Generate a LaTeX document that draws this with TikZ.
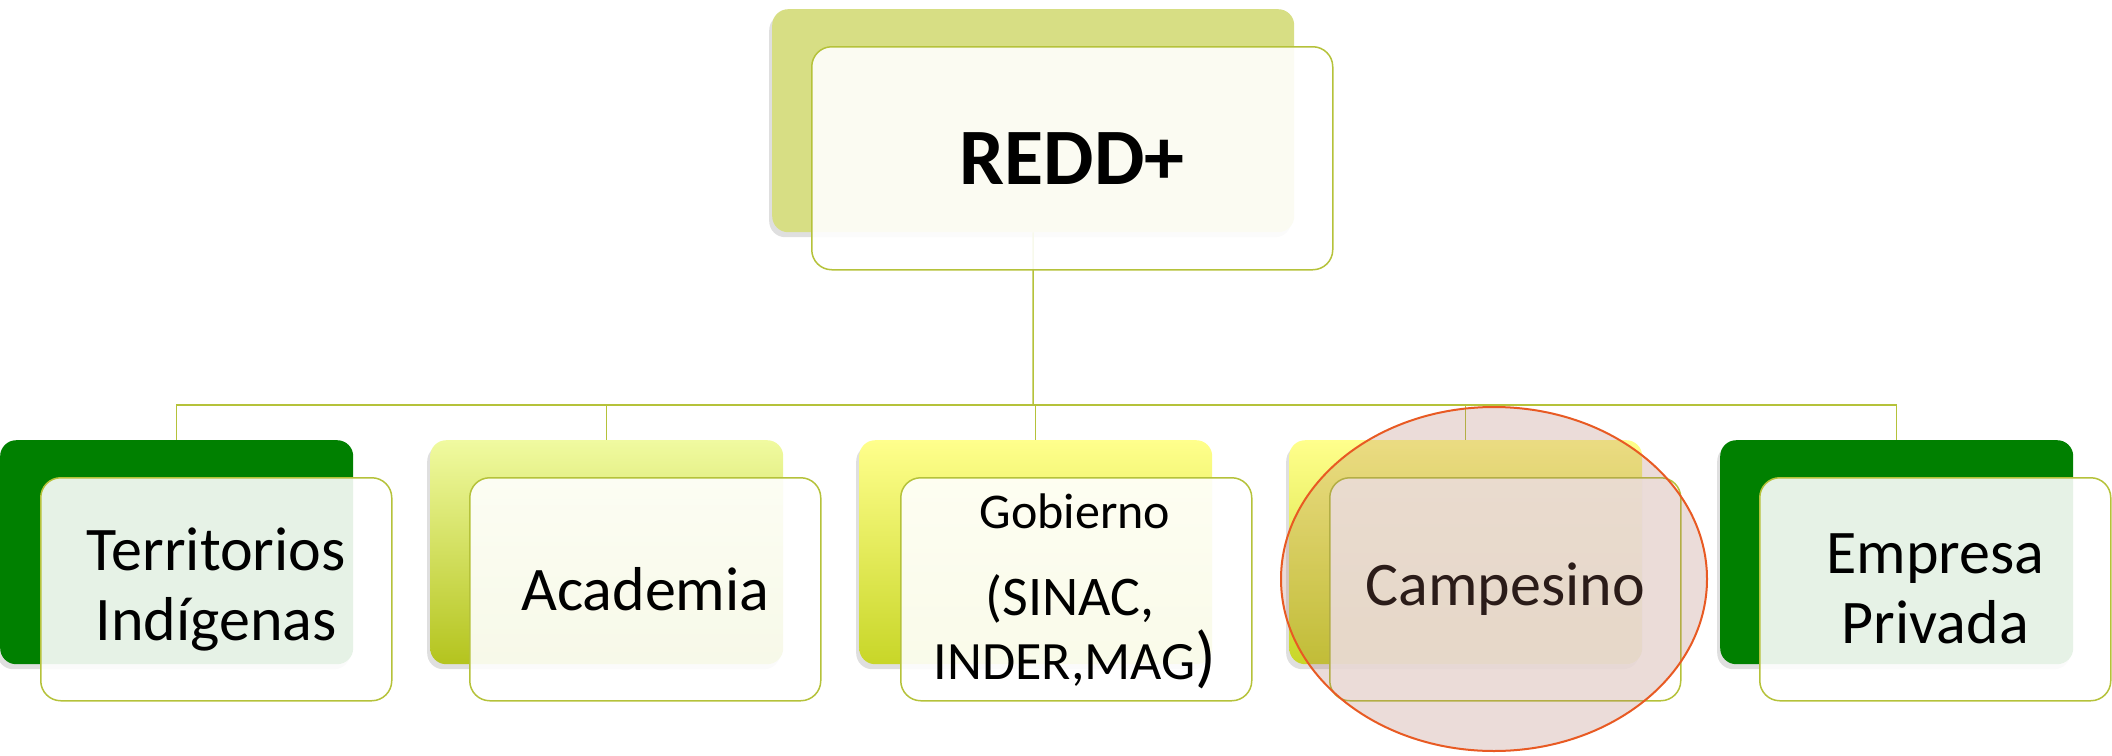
\documentclass[tikz,border=0pt]{standalone}
\usepackage{fontspec}
\setmainfont{Carlito}
\usetikzlibrary{shadows}
\definecolor{lineol}{RGB}{181,194,58}
\definecolor{dgreen}{RGB}{0,128,0}
\definecolor{topback}{RGB}{215,222,132}
\definecolor{acatop}{RGB}{240,250,160}
\definecolor{acabot}{RGB}{180,196,30}
\definecolor{gobtop}{RGB}{255,255,140}
\definecolor{gobbot}{RGB}{200,214,40}
\definecolor{ellfill}{RGB}{175,115,103}
\definecolor{ellline}{RGB}{232,90,35}
\begin{document}
\begin{tikzpicture}[x=1pt,y=-1pt,
  backbox/.style={rounded corners=16pt, minimum width=353pt, minimum height=224pt,
    anchor=north west, inner sep=0pt, draw=none,
    drop shadow={shadow xshift=-3pt,shadow yshift=-5pt,opacity=0.25}},
  frontbox/.style={rounded corners=20pt, minimum width=351pt, minimum height=223pt,
    anchor=north west, draw=lineol, line width=1.5pt, fill=white, fill opacity=0.9,
    text opacity=1, align=center, inner sep=0pt,
    font=\fontsize{62}{70}\selectfont},
  conn/.style={draw=lineol, line width=1.5pt}]
\useasboundingbox (0,0) rectangle (2112,755);

% back boxes
\node[backbox, fill=topback, minimum width=522pt, minimum height=223pt] (tb) at (772,9) {};
\node[backbox, fill=dgreen] (b1) at (0,440) {};
\node[backbox, top color=acatop, bottom color=acabot] (b2) at (430,440) {};
\node[backbox, top color=gobtop, bottom color=gobbot] (b3) at (859,440) {};
\node[backbox, top color=gobtop, bottom color=gobbot] (b4) at (1289,440) {};
\node[backbox, fill=dgreen] (b5) at (1720,440) {};

% connectors
\coordinate (hub) at (1033,405);
\draw[conn] (tb.south) -- (hub);
\foreach \b in {b1,b2,b3,b4,b5} \draw[conn] (hub) -| (\b.north);

% front boxes
\node[frontbox, minimum width=521pt, font=\fontsize{80}{90}\selectfont\bfseries] (tf) at (811,46) {REDD+};
\node[frontbox] (f1) at (40,477) {Territorios\\Indígenas};
\node[frontbox] (f2) at (469,477) {Academia};
\node[frontbox] (f3) at (900,477) {};
\node[frontbox] (f4) at (1329,477) {Campesino};
\node[frontbox] (f5) at (1759,477) {Empresa\\Privada};

% Gobierno text
\node[anchor=base, font=\fontsize{50}{60}\selectfont] (g1) at (1075,528) {Gobierno};
\node[anchor=base, font=\fontsize{56}{64}\selectfont] (g2) at (1070,615) {(SINAC,};
\node[anchor=base, font=\fontsize{54}{64}\selectfont] (g3) at (1075,679) {INDER,MAG{\fontsize{68}{70}\selectfont)}};

% highlight ellipse
\draw[draw=ellline, line width=2pt, fill=ellfill, fill opacity=0.25] (1494,579) ellipse [x radius=213pt, y radius=172pt];
\end{tikzpicture}
\end{document}
